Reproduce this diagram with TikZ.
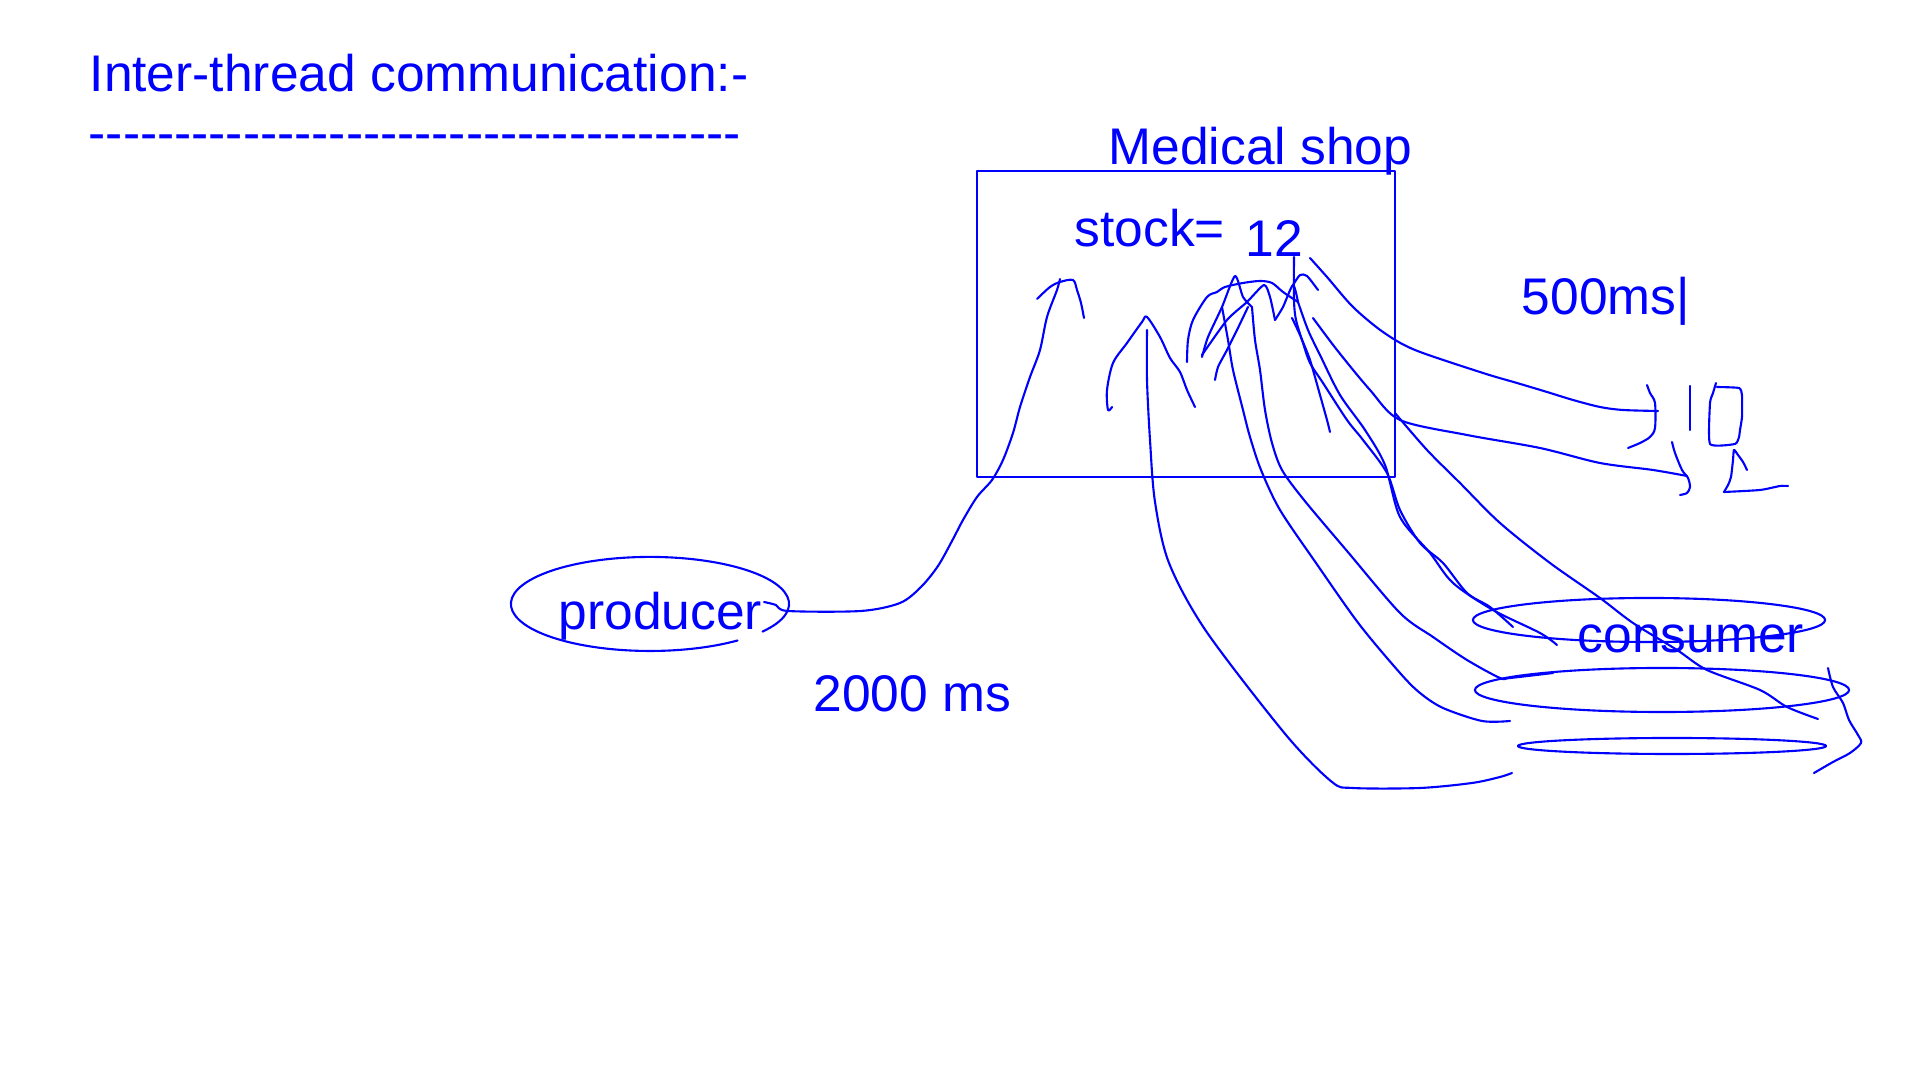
\documentclass[tikz,border=0pt]{standalone}
\usepackage{fontspec}
\newfontfamily\hand{Liberation Sans}
\definecolor{ink}{RGB}{0,0,255}
\def\hy{-\kern0pt}
\tikzset{
  txt/.style={font=\hand\fontsize{14.65}{17}\selectfont, text=ink, inner sep=0pt, anchor=base west},
  pen/.style={draw=ink, line width=0.6pt, line join=round, line cap=round}
}
\begin{document}
\begin{tikzpicture}[x=0.01cm,y=-0.01cm]
\useasboundingbox (0,0) rectangle (1920,1080);

% texts
\node[txt] (title) at (89,92) {Inter-thread communication:-};
\node[txt] (dashes) at (88,151) {\hy\hy\hy\hy\hy\hy\hy\hy\hy\hy\hy\hy\hy\hy\hy\hy\hy\hy\hy\hy\hy\hy\hy\hy\hy\hy\hy\hy\hy\hy\hy\hy\hy\hy\hy\hy\hy\hy};
\node[txt] (shopname) at (1108,165) {Medical shop};
\node[txt] (stock) at (1074,247) {stock=};
\node[txt] (count) at (1245,257) {12};
\node[txt] (cdelay) at (1521,315) {500ms|};
\node[txt] (producer) at (558,630) {producer};
\node[txt] (pdelay) at (813,712) {2000 ms};
\node[txt] (consumer) at (1577,653) {consumer};

% shop box
\draw[pen, line width=0.8pt] (977,171) rectangle (1395,477);

% producer ellipse (hand drawn, small gap)
\draw[pen] (762.5,631.6) arc[start angle=-36, end angle=309, x radius=1.39cm, y radius=0.47cm];

% consumer ellipses
\draw[pen] (1649,620) ellipse[x radius=1.76cm, y radius=0.22cm];
\draw[pen] (1662,690) ellipse[x radius=1.87cm, y radius=0.22cm];
\draw[pen] (1672,746) ellipse[x radius=1.54cm, y radius=0.08cm];

% producer -> stock
\draw[pen] plot[smooth, tension=0.5] coordinates {(764,602) (776,605) (788,611) (861,611) (900,603) (921,587) (938,566) (952,541) (963,520) (977,497) (992,480) (1003,460) (1013,433) (1020,407) (1030,377) (1040,350) (1047,317) (1057,290) (1060,279)};
\draw[pen] plot[smooth, tension=0.5] coordinates {(1037,299) (1050,287) (1060,282) (1073,280) (1077,290) (1081,303) (1084,318)};

% long curve from bottom consumer into shop
\draw[pen] plot[smooth, tension=0.5] coordinates {(1512,773) (1500,777) (1472,783) (1420,788) (1353,788) (1332,782) (1286,735) (1206,631) (1169,563) (1155,502) (1150,440) (1147,380) (1147,330)};
\draw[pen] plot[smooth, tension=0.5] coordinates {(1112,407) (1108,410) (1107,390) (1113,363) (1127,343) (1142,322) (1147,317) (1160,337) (1170,358) (1180,372) (1187,390) (1195,407)};

% scribbled arrow heads inside the shop
\draw[pen] plot[smooth, tension=0.5] coordinates {(1187,362) (1188,340) (1193,320) (1207,297) (1217,292) (1225,287) (1243,283) (1260,281) (1272,283) (1283,292) (1298,302)};
\draw[pen] plot[smooth, tension=0.4] coordinates {(1202,357) (1208,337) (1222,307) (1235,276) (1243,297) (1252,307)};
\draw[pen] plot[smooth, tension=0.4] coordinates {(1202,355) (1227,320) (1247,302) (1264,285) (1270,297) (1275,320)};
\draw[pen] plot[smooth, tension=0.4] coordinates {(1275,320) (1283,307) (1293,285) (1298,302)};
\draw[pen] plot[smooth, tension=0.4] coordinates {(1293,285) (1300,275) (1307,276) (1318,290)};
\draw[pen] plot[smooth, tension=0.4] coordinates {(1215,380) (1218,367) (1227,350) (1237,330) (1248,307)};
\draw[pen] plot[smooth, tension=0.4] coordinates {(1292,318) (1300,335) (1310,360) (1320,395) (1327,420) (1330,432)};

% consumer strokes into the shop
\draw[pen] plot[smooth, tension=0.5] coordinates {(1294,257) (1294,300) (1296,320) (1303,343) (1310,363) (1323,383) (1347,420) (1363,440) (1387,473) (1400,510) (1420,543) (1443,563) (1467,593) (1490,607) (1513,627)};
\draw[pen] plot[smooth, tension=0.5] coordinates {(1298,302) (1308,330) (1320,355) (1340,395) (1365,430) (1385,465) (1400,517) (1430,553) (1453,583) (1493,610) (1540,633) (1557,645)};
\draw[pen] plot[smooth, tension=0.5] coordinates {(1222,307) (1228,340) (1233,370) (1243,410) (1250,437) (1261,470) (1280,510) (1316,563) (1359,624) (1400,673) (1420,693) (1443,708) (1482,721) (1510,721)};
\draw[pen] plot[smooth, tension=0.5] coordinates {(1252,307) (1255,340) (1260,370) (1265,410) (1272,443) (1282,470) (1304,500) (1347,551) (1400,613) (1433,637) (1467,660) (1500,678) (1510,678) (1553,673)};
\draw[pen] plot[smooth, tension=0.5] coordinates {(1310,258) (1327,277) (1353,307) (1383,332) (1415,350) (1483,373) (1517,383) (1547,392) (1573,400) (1600,407) (1623,410) (1658,411)};
\draw[pen] plot[smooth, tension=0.5] coordinates {(1313,318) (1337,350) (1370,390) (1400,420) (1467,435) (1540,448) (1600,463) (1653,470) (1687,476)};
\draw[pen] plot[smooth, tension=0.5] coordinates {(1395,413) (1427,450) (1460,483) (1500,523) (1550,563) (1600,598) (1633,623) (1677,650) (1707,670) (1760,690) (1787,707) (1818,719)};

% scribbles at the right
\draw[pen] plot[smooth, tension=0.5] coordinates {(1647,385) (1650,393) (1655,403) (1655,428) (1650,437) (1640,443) (1628,448)};
\draw[pen] plot[smooth, tension=0.5] coordinates {(1672,442) (1675,453) (1682,470) (1688,478) (1690,487) (1687,493) (1680,495)};
\draw[pen] (1690,386) -- (1690,430);
\draw[pen] plot[smooth, tension=0.3] coordinates {(1716,383) (1713,393) (1710,403) (1710,444) (1735,444) (1739,437) (1740,430) (1742,417) (1742,395) (1739,388) (1717,387)};
\draw[pen] plot[smooth, tension=0.4] coordinates {(1724,492) (1728,485) (1731,477) (1733,460) (1734,450) (1738,455) (1743,462) (1747,470)};
\draw[pen] plot[smooth, tension=0.4] coordinates {(1724,492) (1760,490) (1780,486) (1788,486)};
\draw[pen] plot[smooth, tension=0.5] coordinates {(1828,668) (1833,687) (1843,703) (1849,720) (1858,735) (1861,743) (1850,753) (1833,762) (1814,773)};
\end{tikzpicture}
\end{document}
